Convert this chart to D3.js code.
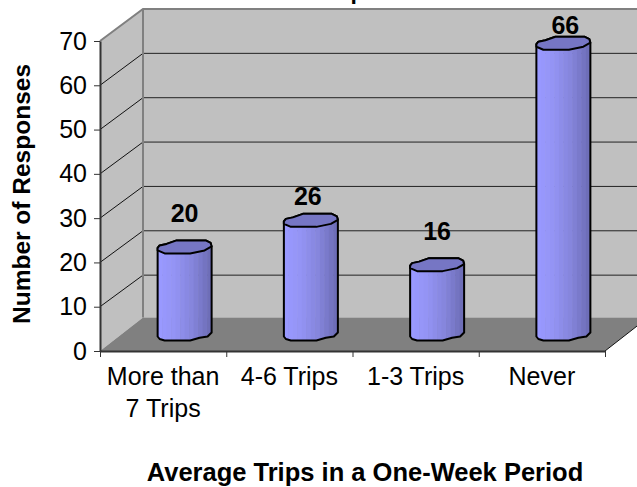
<!DOCTYPE html>
<html>
<head>
<meta charset="utf-8">
<title>Average Trips in a One-Week Period</title>
<script src="https://cdn.jsdelivr.net/npm/d3@7"></script>
<style>
  html, body { margin: 0; padding: 0; background: #fff; }
  svg { display: block; font-family: "Liberation Sans", Arial, sans-serif; }
</style>
</head>
<body>
<svg id="chart"></svg>
<script>
const categories = [["More than", "7 Trips"], ["4-6 Trips"], ["1-3 Trips"], ["Never"]];
const responses = [20, 26, 16, 66];
const yTicks = [0, 10, 20, 30, 40, 50, 60, 70];

const width = 637;
const height = 487;

// front plane of the 3D box and the offset to its back wall
const frontLeft = 100;
const frontRight = 605;
const frontBottom = 351;
const frontTop = 41;
const depthX = 43;
const backTop = 9;
const backBottom = 319.5;
const floorBack = 317.5;

const svg = d3.select("#chart")
  .attr("width", width)
  .attr("height", height)
  .attr("viewBox", `0 0 ${width} ${height}`);

const yFront = d3.scaleLinear().domain([0, 70]).range([frontBottom, frontTop]);
const yBack = d3.scaleLinear().domain([0, 70]).range([backBottom, backTop]);
const x = d3.scaleBand().domain(d3.range(categories.length)).range([frontLeft, frontRight]);
const xEdge = d3.scaleLinear().domain([0, categories.length]).range([frontLeft, frontRight]);

const backX = frontLeft + depthX;
const line = d3.line();

// walls and floor
svg.append("rect")
  .attr("x", backX)
  .attr("y", backTop)
  .attr("width", width - backX)
  .attr("height", floorBack - backTop)
  .attr("fill", "#c0c0c0");

svg.append("path")
  .attr("d", line([[frontLeft, frontTop], [backX, backTop], [backX, floorBack], [frontLeft, frontBottom]]) + "Z")
  .attr("fill", "#c0c0c0");

svg.append("path")
  .attr("d", line([[frontLeft, frontBottom], [backX, floorBack], [frontRight + depthX, floorBack], [frontRight, frontBottom]]) + "Z")
  .attr("fill", "#808080");

// gridlines run along the back wall and down the side wall
const gridTicks = yTicks.filter((d) => d > 0 && d < 70);

svg.selectAll(".grid-back")
  .data(gridTicks)
  .join("line")
  .attr("class", "grid-back")
  .attr("x1", backX)
  .attr("x2", width)
  .attr("y1", (d) => yBack(d))
  .attr("y2", (d) => yBack(d))
  .attr("stroke", "#222")
  .attr("stroke-width", 1);

svg.selectAll(".grid-side")
  .data(gridTicks)
  .join("line")
  .attr("class", "grid-side")
  .attr("x1", frontLeft)
  .attr("x2", backX)
  .attr("y1", (d) => yFront(d))
  .attr("y2", (d) => yBack(d))
  .attr("stroke", "#111")
  .attr("stroke-width", 1);

// grey frame of the walls
svg.append("path")
  .attr("d", line([[frontLeft, frontTop], [backX, backTop], [width, backTop]]))
  .attr("fill", "none")
  .attr("stroke", "#808080")
  .attr("stroke-width", 2);

svg.append("line")
  .attr("x1", backX)
  .attr("x2", backX)
  .attr("y1", backTop)
  .attr("y2", floorBack)
  .attr("stroke", "#808080")
  .attr("stroke-width", 2);

// right edge of the floor
svg.append("line")
  .attr("x1", frontRight)
  .attr("y1", frontBottom)
  .attr("x2", frontRight + depthX)
  .attr("y2", floorBack)
  .attr("stroke", "#111")
  .attr("stroke-width", 1);

// cylinder outline, as offsets from the column centre
const capShape = [[-27, -5.5], [-25, -8], [-18, -9.5], [-8, -13], [21, -13], [26, -10.5], [27, -7], [20, -3], [5.5, 0], [-20, 0], [-27, -3]];
const baseShape = [[-27, -4], [-25, -1.5], [-20, 0], [5.5, 0], [15, -2.7], [23, -4], [27, -8]];
const capTopEdge = capShape.slice(0, 7);
const columnWidth = 54;
const stripCount = 12;
const baseY = frontBottom - 10.5;
const shade = d3.scaleLinear()
  .domain([0, 0.3, 0.65, 1])
  .range(["#9999ff", "#9494f4", "#8585dc", "#6e6eb8"]);

const columns = svg.selectAll(".column")
  .data(responses)
  .join("g")
  .attr("class", "column")
  .attr("transform", (d, i) => `translate(${x(i) + x.bandwidth() / 2 + depthX / 2},0)`);

const bodyPoints = (d) => {
  const capY = yFront(d) - 9;
  return [
    ...capTopEdge.map(([dx, dy]) => [dx, capY + dy]),
    ...baseShape.slice().reverse().map(([dx, dy]) => [dx, baseY + dy]),
  ];
};

columns.append("clipPath")
  .attr("id", (d, i) => `column-clip-${i}`)
  .append("path")
  .attr("d", (d) => line(bodyPoints(d)) + "Z");

columns.append("g")
  .attr("clip-path", (d, i) => `url(#column-clip-${i})`)
  .selectAll("rect")
  .data((d) => d3.range(stripCount).map((s) => ({ s, d })))
  .join("rect")
  .attr("x", (e) => -columnWidth / 2 + e.s * columnWidth / stripCount)
  .attr("y", (e) => yFront(e.d) - 25)
  .attr("width", columnWidth / stripCount + 0.5)
  .attr("height", (e) => baseY - yFront(e.d) + 25)
  .attr("fill", (e) => shade(e.s / (stripCount - 1)));

columns.append("path")
  .attr("d", (d) => line(bodyPoints(d)) + "Z")
  .attr("fill", "none")
  .attr("stroke", "#000")
  .attr("stroke-width", 2)
  .attr("stroke-linejoin", "round");

columns.append("path")
  .attr("d", (d) => line(capShape.map(([dx, dy]) => [dx, yFront(d) - 9 + dy])) + "Z")
  .attr("fill", "#7676c4")
  .attr("stroke", "#000")
  .attr("stroke-width", 2)
  .attr("stroke-linejoin", "round");

// value labels sit at a different height above each column
const labelLift = [31, 22, 31, 16];
const labelShift = [0, -3, 0, 2];

svg.selectAll(".value")
  .data(responses)
  .join("text")
  .attr("class", "value")
  .attr("x", (d, i) => x(i) + x.bandwidth() / 2 + depthX / 2 + labelShift[i])
  .attr("y", (d, i) => yFront(d) - 9 - labelLift[i])
  .attr("text-anchor", "middle")
  .attr("font-size", 25)
  .attr("font-weight", "bold")
  .attr("fill", "#000")
  .text((d) => d);

// axes
const yAxis = d3.axisLeft(yFront).tickValues(yTicks).tickSize(6).tickPadding(7).tickSizeOuter(0);
const yAxisG = svg.append("g")
  .attr("transform", `translate(${frontLeft},0)`)
  .call(yAxis);
yAxisG.select(".domain").attr("stroke", "#333").attr("stroke-width", 2);
yAxisG.selectAll(".tick line").attr("stroke", "#333").attr("stroke-width", 1);
yAxisG.selectAll(".tick text")
  .attr("font-family", "Liberation Sans")
  .attr("font-size", 25)
  .attr("fill", "#000");

const xAxis = d3.axisBottom(xEdge)
  .tickValues(d3.range(categories.length + 1))
  .tickSize(6)
  .tickSizeOuter(0)
  .tickFormat("");
const xAxisG = svg.append("g")
  .attr("transform", `translate(0,${frontBottom})`)
  .call(xAxis);
xAxisG.select(".domain").attr("stroke", "#333").attr("stroke-width", 2);
xAxisG.selectAll(".tick line").attr("stroke", "#333").attr("stroke-width", 1);

// category labels, one text element per line
svg.selectAll(".category")
  .data(categories)
  .join("text")
  .attr("class", "category")
  .attr("text-anchor", "middle")
  .attr("font-size", 25)
  .attr("fill", "#000")
  .selectAll("tspan")
  .data((lines, i) => lines.map((t, n) => ({ t, n, i })))
  .join("tspan")
  .attr("x", (d) => x(d.i) + x.bandwidth() / 2)
  .attr("y", (d) => 385 + d.n * 31.5)
  .text((d) => d.t);

// axis titles
svg.append("text")
  .attr("x", 365)
  .attr("y", 481)
  .attr("text-anchor", "middle")
  .attr("font-size", 25.5)
  .attr("font-weight", "bold")
  .attr("fill", "#000")
  .text("Average Trips in a One-Week Period");

svg.append("text")
  .attr("transform", "translate(30,194) rotate(-90)")
  .attr("text-anchor", "middle")
  .attr("font-size", 24.5)
  .attr("font-weight", "bold")
  .attr("fill", "#000")
  .text("Number of Responses");

// the chart title runs off the top edge, only this descender stays in frame
svg.append("text")
  .attr("x", 350.5)
  .attr("y", -1)
  .attr("font-size", 23)
  .attr("font-weight", "bold")
  .attr("fill", "#000")
  .text("p");
</script>
</body>
</html>
